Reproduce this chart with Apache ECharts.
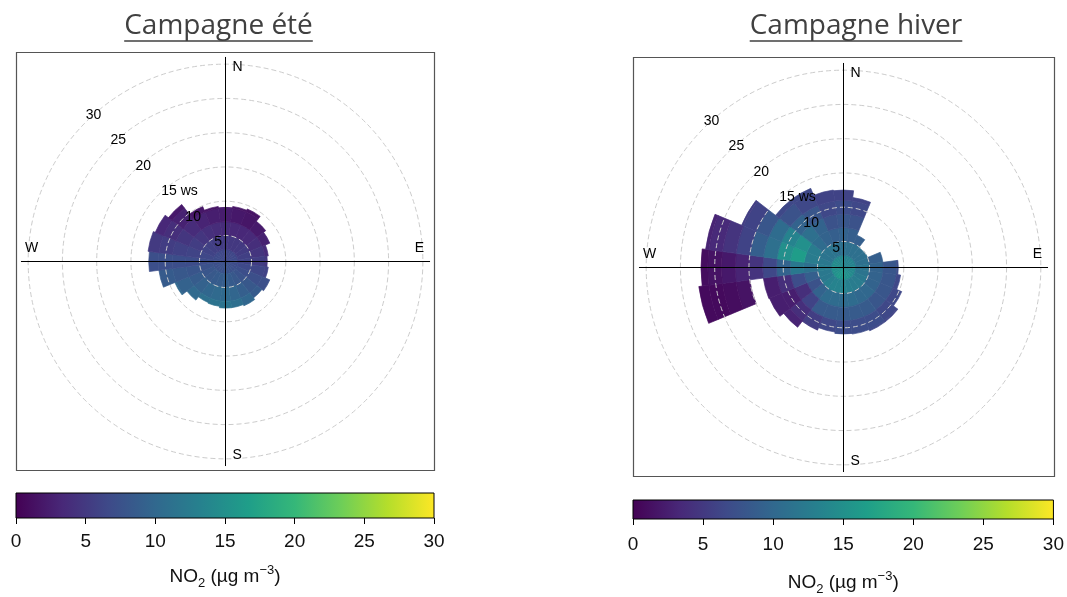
<!DOCTYPE html>
<html><head><meta charset="utf-8">
<script src="https://cdn.jsdelivr.net/npm/echarts@6/dist/echarts.min.js"></script>
<style>html,body{margin:0;padding:0;background:#fff}#c{width:1067px;height:597px}</style>
</head><body><div id="c"></div>
<script>
// ---- data (wind direction sectors, wind-speed bands, NO2 values) ----
const DIRECTIONS = [0,15,30,45,60,75,90,105,120,135,150,165,180,195,210,225,240,255,270,285,300,315,330,345];
const BAND_EDGES = [1.2,3,5,7,9,11,13,15,17,19,21,23,25];   // wind speed band limits
const summerExtent = [9.1,9.3,9.5,8.6,8.2,7.5,7.3,7.5,8.2,7.9,8.2,8.0,8.0,7.8,7.7,8.3,9.2,11.0,12.4,12.6,12.3,11.7,9.9,9.3];
const summerValues = [
  [6.5,5.0,3.7,2.4,2.0],
  [6.3,4.9,3.4,2.0,1.6],
  [6.3,4.9,3.3,1.8,1.5],
  [6.4,5.0,3.5,2.1],
  [6.4,5.2,3.9,2.7],
  [6.6,5.6,4.6,3.6],
  [6.7,6.0,5.4,4.7],
  [6.9,6.6,6.3,6.0],
  [7.0,7.1,7.2,7.3],
  [7.2,7.7,8.2,8.6],
  [7.4,8.2,9.0,9.9],
  [7.5,8.6,9.8,10.9],
  [7.6,8.9,10.3,11.6],
  [7.6,8.8,10.2,11.4],
  [7.5,8.6,9.9,11.0],
  [7.4,8.3,9.3,10.3],
  [7.3,8.0,8.7,9.3,10.0],
  [7.2,7.5,7.9,8.2,8.6],
  [7.0,7.0,7.0,7.1,7.2,7.2],
  [6.8,6.5,6.1,5.8,5.4,5.1],
  [6.7,6.0,5.4,4.7,4.0,3.3],
  [6.6,5.7,4.7,3.7,2.8,2.0],
  [6.5,5.4,4.1,3.0,1.8],
  [6.4,5.2,3.8,2.5,1.6]
];
const winterExtent = [12.5,11.5,6.3,4.9,5.0,7.0,9.2,9.6,10.4,11.2,11.2,11.0,10.9,10.7,11.1,12.2,12.9,22.5,22.0,21.5,17.3,13.7,13.7,12.6];
const winterValues = [
  [13.5,11,9.5,8,7,6],
  [13.5,11,9,7.5,6.5,6],
  [13.5,11,9],
  [13.5,11],
  [13.5,11],
  [13.5,11,9],
  [14,11.5,9.5,8,7],
  [14,11.5,9.5,8,6.5],
  [14,12,9.5,8,6.5],
  [14.5,12.5,10,8,6.5,6],
  [15,12.5,10,8.5,7,6.5],
  [15,13,10.5,8.5,7],
  [15.5,13.5,10.5,8.5,7],
  [15.5,13.5,10.5,8.5,6.5],
  [16,13.5,10.5,8.5,5.5,5],
  [15.5,13,9.5,6,4,3],
  [15,12,7.5,4,2.5,2.5],
  [15,12,9,7,4,2.5,null,1.5,1,0.8,0.8,0.8],
  [14.5,12.5,11,12,9.5,6.5,4.5,3,2,1.5,1],
  [14.5,12,12.5,16.5,15,11,9,6,4.5,3.5,3],
  [14.5,11.5,12.5,15,13.5,10.5,8,6,5.5],
  [14,11.5,10.5,11,9.5,7.5,6.5],
  [14,11.5,9.5,9.5,8,6.5,6.5],
  [14,11,9,7.5,6.5,6]
];
const RING_VALUES = [5,10,15,20,25,30];
const RING_LABELS = ['5','10','15 ws','20','25','30'];
const COMPASS_ANGLES = [0,90,180,270];
const COMPASS_LABELS = ['N','E','S','W'];
const TITLES = ['Campagne été','Campagne hiver'];
const CBAR_RANGE = [0,30];
const VIRIDIS = ['#440154','#482878','#3e4a89','#31688e','#26828e','#1f9e89','#35b779','#6ece58','#b5de2b','#fde725'];

// ---- build cells ----
const SECTOR = DIRECTIONS[1] - DIRECTIONS[0];
function buildCells(values, extent){
  const out = [];
  DIRECTIONS.forEach((dir,i)=>{
    values[i].forEach((v,b)=>{
      if (v == null) return;
      const r0 = BAND_EDGES[b];
      const r1 = Math.min(BAND_EDGES[b+1], extent[i]);
      if (r1 <= r0) return;
      out.push([dir, r0, r1, v]);
    });
  });
  return out;
}
function pr(c, p){ return Math.hypot(p[0]-c.cx, p[1]-c.cy); }
function pa(c, p){ return Math.atan2(p[1]-c.cy, p[0]-c.cx); }

function renderCell(params, api){
  const c = params.coordSys;
  const ang = api.value(0), r0 = api.value(1), r1 = api.value(2);
  const pA = api.coord([r1, ang - SECTOR/2]);
  const pB = api.coord([r1, ang + SECTOR/2]);
  const pI = api.coord([r0, ang]);
  let a0 = pa(c,pA), a1 = pa(c,pB);
  if (a1 < a0) a1 += Math.PI*2;
  const col = api.visual('color');
  return {type:'sector', shape:{cx:c.cx, cy:c.cy, r0:pr(c,pI), r:pr(c,pA), startAngle:a0, endAngle:a1, clockwise:true},
    style:{fill:col, stroke:col, lineWidth:0.7}};
}
function renderRing(params, api){
  const c = params.coordSys;
  const v = api.value(0);
  const p = api.coord([v, 0]);
  const lp = api.coord([v, 318]);
  const lab = RING_LABELS[params.dataIndex];
  const shift = (30 - v) * 0.4;
  const isWs = lab.indexOf('ws') >= 0;
  return {type:'group', children:[
    {type:'circle', shape:{cx:c.cx, cy:c.cy, r:pr(c,p)}, style:{fill:'none', stroke:'#cccccc', lineWidth:1, lineDash:[5,3]}},
    {type:'text', x: isWs ? lp[0] - 1 : lp[0] + shift, y: lp[1], style:{text:lab, fill:'#000', fontSize:14, fontFamily:'Liberation Sans',
      align: isWs ? 'left' : 'center', verticalAlign:'middle'}}
  ]};
}
const CROSS_V = 31.05, LABEL_V = 29.5;
function renderCompass(params, api){
  const c = params.coordSys;
  const ang = api.value(1);
  const pe = api.coord([CROSS_V, ang]);
  const pl = api.coord([LABEL_V, ang]);
  const ns = ang % 180 === 0;
  return {type:'group', children:[
    {type:'line', shape:{x1:c.cx, y1:c.cy, x2:pe[0], y2:pe[1]}, style:{stroke:'#000', lineWidth:1}},
    {type:'text', x: ns ? pl[0] + 7 : pl[0], y: ns ? pl[1] : pl[1] - 6,
      style:{text:COMPASS_LABELS[params.dataIndex], fill:'#000', fontSize:14, fontFamily:'Liberation Sans',
        align: ns ? 'left' : 'center', verticalAlign: ns ? 'middle' : 'bottom'}}
  ]};
}
function renderBar(params, api){
  const p0 = api.coord([api.value(0), 0]);
  const p1 = api.coord([api.value(1), 1]);
  const stops = VIRIDIS.map((col,i)=>({offset:i/(VIRIDIS.length-1), color:col}));
  return {type:'rect', shape:{x:p0[0], y:p1[1], width:p1[0]-p0[0], height:p0[1]-p1[1]},
    style:{fill:new echarts.graphic.LinearGradient(0,0,1,0,stops), stroke:'#000', lineWidth:1}};
}

const polars = [{center:[225.5,261.5], radius:[0,209]},{center:[843.5,267.5], radius:[0,210]}];
const rMax = [31.7, 31.85];
const angleAxes = [0,1].map(i=>({polarIndex:i, type:'value', min:0, max:360, startAngle:90, clockwise:true, show:false}));
const radiusAxes = [0,1].map(i=>({polarIndex:i, type:'value', min:BAND_EDGES[0], max:rMax[i], show:false}));

const nameStyle = {fontSize:19, color:'#111', fontFamily:'Liberation Sans', lineHeight:26,
  rich:{sub:{fontSize:13, fontFamily:'Liberation Sans', color:'#111', verticalAlign:'bottom', lineHeight:26},
        sup:{fontSize:13, fontFamily:'Liberation Sans', color:'#111', verticalAlign:'top', lineHeight:13}}};
const grids = [{left:16, top:493, width:418, height:25},{left:633, top:500, width:421, height:23}];
const xAxes = [0,1].map(i=>({gridIndex:i, type:'value', min:CBAR_RANGE[0], max:CBAR_RANGE[1], interval:5,
  axisLine:{show:false}, axisTick:{show:true, length:6, lineStyle:{color:'#000'}},
  axisLabel:{fontSize:19, color:'#111', fontFamily:'Liberation Sans', margin: i===0 ? 14 : 16},
  splitLine:{show:false},
  name:'NO{sub|2} (µg m{sup|−3})', nameLocation:'middle', nameGap: i===0 ? 46 : 51, nameTextStyle:nameStyle}));
const yAxes = [0,1].map(i=>({gridIndex:i, type:'value', min:0, max:1, show:false}));

const series = [];
[summerValues, winterValues].forEach((vals,i)=>{
  series.push({type:'custom', coordinateSystem:'polar', polarIndex:i, silent:true, z:2,
    data: buildCells(vals, i===0 ? summerExtent : winterExtent),
    encode:{radius:[1,2], angle:0}, renderItem:renderCell});
});
[0,1].forEach(i=>{
  series.push({type:'custom', coordinateSystem:'polar', polarIndex:i, silent:true, z:3,
    data: RING_VALUES.map(v=>[v]), encode:{radius:0}, renderItem:renderRing});
  series.push({type:'custom', coordinateSystem:'polar', polarIndex:i, silent:true, z:4,
    data: COMPASS_ANGLES.map(a=>[CROSS_V, a]), encode:{radius:0, angle:1}, renderItem:renderCompass});
  series.push({type:'custom', coordinateSystem:'cartesian2d', xAxisIndex:i, yAxisIndex:i, silent:true,
    data:[CBAR_RANGE], encode:{x:[0,1]}, renderItem:renderBar});
});

// titles with underline
const titleFont = '28px "Open Sans"';
const ctx = document.createElement('canvas').getContext('2d');
ctx.font = titleFont;
const titleX = [218.5, 856];
const graphic = [];
TITLES.forEach((t,i)=>{
  const w = ctx.measureText(t).width;
  graphic.push({type:'text', x:titleX[i], y:26, style:{text:t, font:titleFont, fill:'#404040', align:'center', verticalAlign:'middle'}});
  graphic.push({type:'line', shape:{x1:titleX[i]-w/2, y1:41, x2:titleX[i]+w/2, y2:41}, style:{stroke:'#404040', lineWidth:1.6}});
});
graphic.push({type:'rect', shape:{x:16.5, y:52.5, width:418, height:418}, style:{fill:'none', stroke:'#555', lineWidth:1.2}});
graphic.push({type:'rect', shape:{x:633.5, y:57.5, width:421, height:419}, style:{fill:'none', stroke:'#555', lineWidth:1.2}});

const chart = echarts.init(document.getElementById('c'), null, {renderer:'canvas'});
chart.setOption({
  animation:false,
  backgroundColor:'#fff',
  polar:polars, angleAxis:angleAxes, radiusAxis:radiusAxes,
  grid:grids, xAxis:xAxes, yAxis:yAxes,
  visualMap:{type:'continuous', show:false, min:0, max:30, dimension:3, seriesIndex:[0,1], inRange:{color:VIRIDIS}},
  graphic:graphic,
  series:series
});
</script></body></html>
